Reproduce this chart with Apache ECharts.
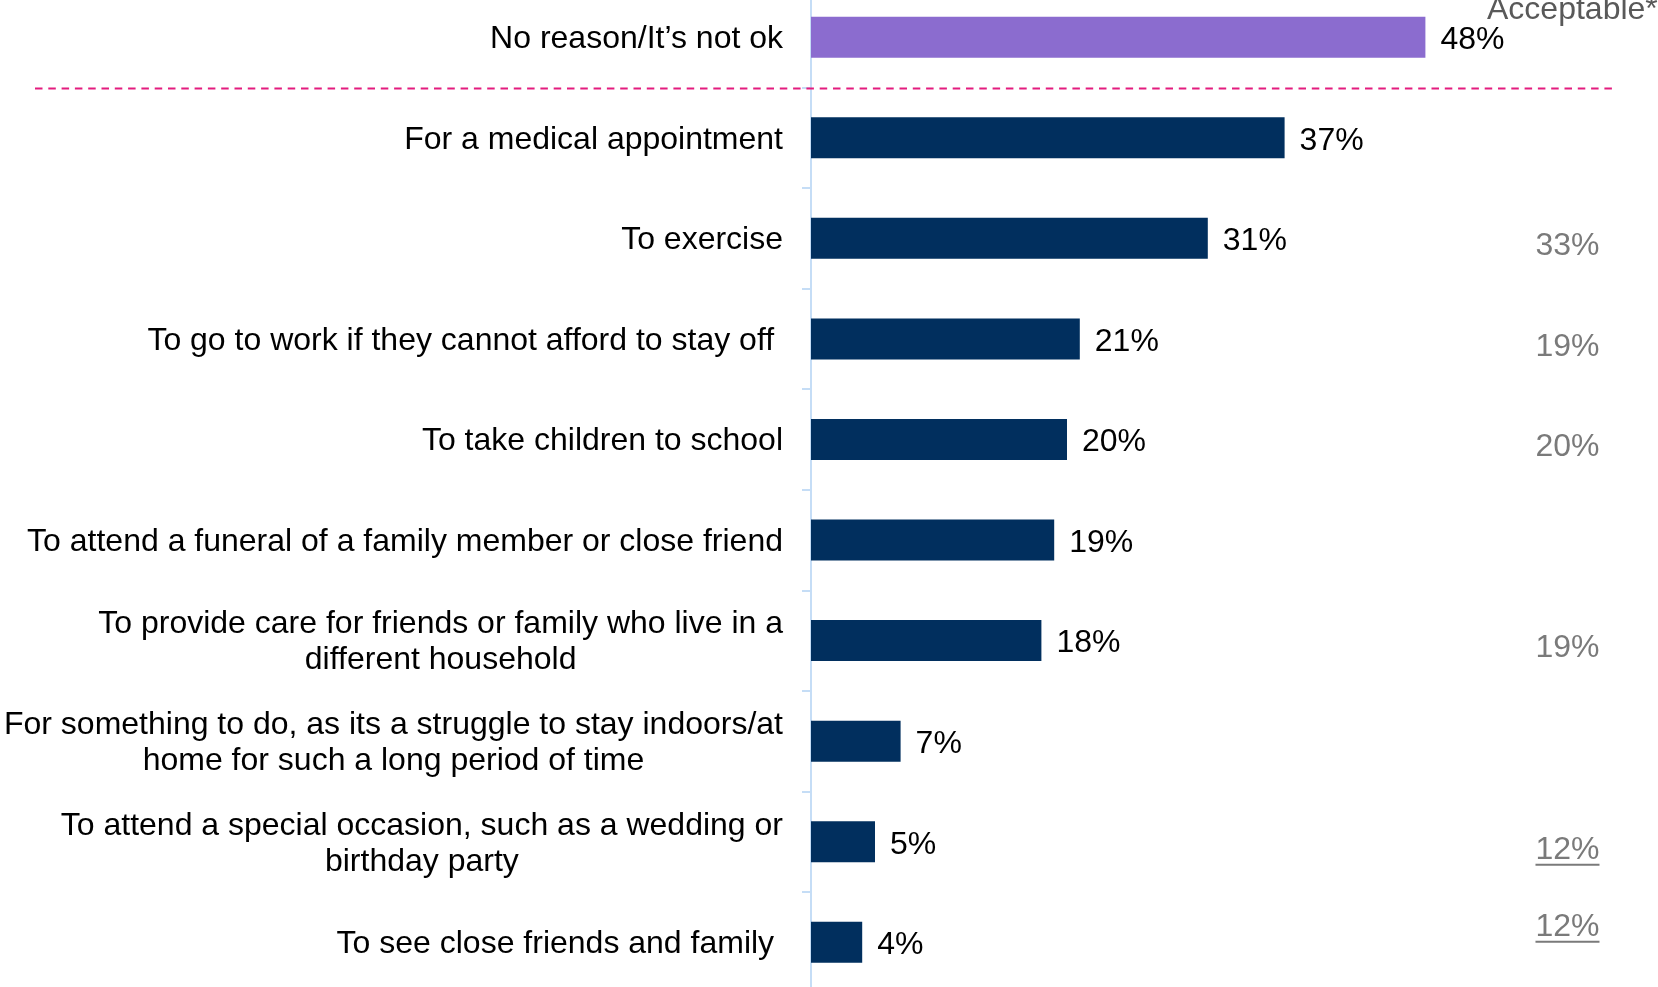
<!DOCTYPE html>
<html>
<head>
<meta charset="utf-8">
<script src="https://cdn.jsdelivr.net/npm/echarts@6/dist/echarts.min.js"></script>
<style>
html,body{margin:0;padding:0;background:#fff;}
#chart{width:1658px;height:987px;}
</style>
</head>
<body>
<div id="chart"></div>
<script>
// ---- data ----
const categories = [
  'No reason/It\u2019s not ok',
  'For a medical appointment',
  'To exercise',
  'To go to work if they cannot afford to stay off ',
  'To take children to school',
  'To attend a funeral of a family member or close friend',
  'To provide care for friends or family who live in a\ndifferent household',
  'For something to do, as its a struggle to stay indoors/at\nhome for such a long period of time',
  'To attend a special occasion, such as a wedding or\nbirthday party',
  'To see close friends and family '
];
const values = [48, 37, 31, 21, 20, 19, 18, 7, 5, 4];
const acceptableTitle = 'Acceptable*';
const acceptable = [null, null, 33, 19, 20, null, 19, null, 12, 12];
const acceptableUnderlined = [false, false, false, false, false, false, false, false, true, true];

// ---- styles ----
const FONT = 'Liberation Sans, Arial, sans-serif';
const FS = 32;
const PURPLE = '#8B6CCF';
const NAVY = '#012F5E';
const GREY = '#595959';
const AXIS_BLUE = '#C5DDF6';
const PINK = '#E31C7E';
const RIGHT_X = 59.1;
const rightDy = function (i) { return i === 9 ? -13.6 : (acceptableUnderlined[i] ? 10 : 8); };

const chart = echarts.init(document.getElementById('chart'), null, {renderer: 'canvas'});

const barData = values.map(function (v, i) {
  return {value: v, itemStyle: {color: i === 0 ? PURPLE : NAVY}};
});

const rightData = [];
acceptable.forEach(function (v, i) {
  if (v == null) return;
  rightData.push({
    value: [RIGHT_X, i],
    label: {offset: [0, rightDy(i)]},
    txt: v + '%',
    ul: acceptableUnderlined[i]
  });
});

const option = {
  animation: false,
  backgroundColor: '#ffffff',
  grid: {left: 811, right: 79, top: -13.1, bottom: -5.6, containLabel: false, outerBoundsMode: 'none'},
  xAxis: {type: 'value', min: 0, max: 60, show: false},
  yAxis: {
    type: 'category',
    inverse: true,
    data: categories,
    axisLine: {show: true, lineStyle: {color: AXIS_BLUE, width: 2}},
    axisTick: {show: true, length: 9, lineStyle: {color: AXIS_BLUE, width: 2}},
    splitLine: {show: false},
    axisLabel: {
      margin: 28,
      fontFamily: FONT,
      fontSize: FS,
      color: '#000',
      formatter: function (val) {
        return val.split('\n').map(function (l) { return '{c|' + l + '}'; }).join('\n');
      },
      rich: {
        c: {align: 'center', fontFamily: FONT, fontSize: FS, color: '#000', lineHeight: 36, padding: [4, 0, 0, 0]}
      }
    }
  },
  series: [
    {
      type: 'bar',
      data: barData,
      barWidth: 41,
      label: {
        show: true,
        position: 'right',
        distance: 15,
        offset: [0, 3],
        fontFamily: FONT,
        fontSize: FS,
        color: '#000',
        formatter: '{c}%'
      }
    },
    {
      type: 'scatter',
      data: rightData,
      symbolSize: 0,
      silent: true,
      label: {
        show: true,
        position: 'inside',
        formatter: function (p) {
          return p.data.ul ? '{t|' + p.data.txt + '}\n{u| }' : '{t|' + p.data.txt + '}';
        },
        rich: {
          t: {fontFamily: FONT, fontSize: FS, color: GREY, lineHeight: 26},
          u: {width: 64, height: 2, lineHeight: 4, backgroundColor: GREY, fontSize: 2}
        }
      }
    }
  ]
};
chart.setOption(option);

const y0 = chart.convertToPixel({yAxisIndex: 0}, 0);
const y1 = chart.convertToPixel({yAxisIndex: 0}, 1);
const sepY = (y0 + y1) / 2 + 1;
chart.setOption({
  graphic: [
    {
      type: 'line',
      shape: {x1: 35, y1: sepY, x2: 1615, y2: sepY},
      style: {stroke: PINK, lineWidth: 2, lineDash: [7.5, 5.8]},
      z: 10
    },
    {
      type: 'text',
      x: 1487,
      y: 10,
      style: {text: acceptableTitle, fill: GREY, font: FS + 'px ' + FONT, verticalAlign: 'middle'},
      z: 10
    }
  ]
});
</script>
</body>
</html>
